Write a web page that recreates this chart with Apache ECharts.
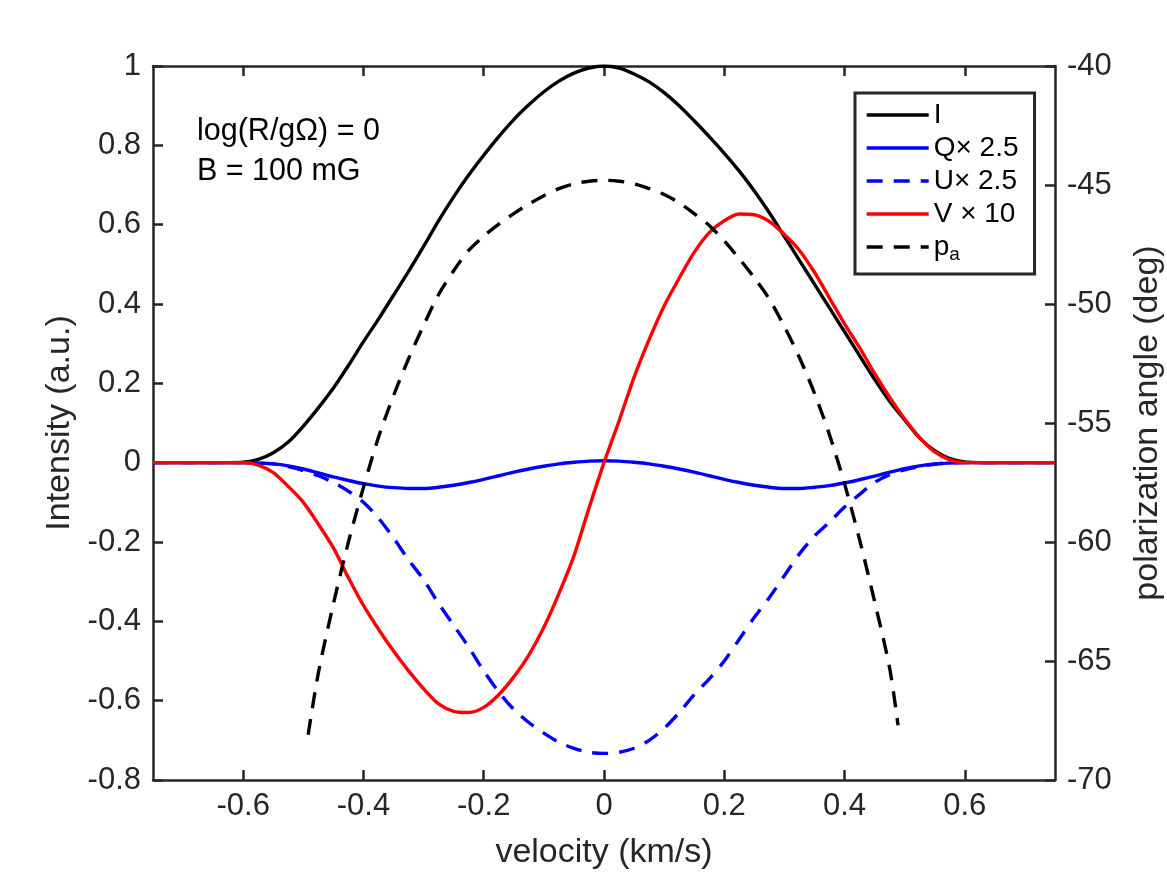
<!DOCTYPE html>
<html>
<head>
<meta charset="utf-8">
<title>Stokes profiles</title>
<script src="https://cdn.jsdelivr.net/npm/echarts@6.0.0/dist/echarts.min.js"></script>
<style>
  html, body { margin: 0; padding: 0; background: #fff; }
  #chart { width: 1167px; height: 875px; }
</style>
</head>
<body>
<div id="chart"></div>
<script>
// velocity grid (km/s)
var velocity = [-0.75, -0.725, -0.7, -0.675, -0.65, -0.625, -0.6, -0.575, -0.55, -0.525,
  -0.5, -0.475, -0.45, -0.425, -0.4, -0.375, -0.35, -0.325, -0.3, -0.275,
  -0.25, -0.225, -0.2, -0.175, -0.15, -0.125, -0.1, -0.075, -0.05, -0.025,
  0,
  0.025, 0.05, 0.075, 0.1, 0.125, 0.15, 0.175, 0.2, 0.225, 0.25,
  0.275, 0.3, 0.325, 0.35, 0.375, 0.4, 0.425, 0.45, 0.475, 0.5,
  0.525, 0.55, 0.575, 0.6, 0.625, 0.65, 0.675, 0.7, 0.725, 0.75];

var stokesI = [0, 0, 0, 0, 0, 0, 0.001, 0.008, 0.025, 0.052,
  0.092, 0.138, 0.188, 0.245, 0.305, 0.362, 0.422, 0.482, 0.545, 0.61,
  0.67, 0.725, 0.775, 0.822, 0.865, 0.902, 0.935, 0.962, 0.982, 0.995,
  1.0,
  0.995, 0.98, 0.96, 0.933, 0.9, 0.862, 0.822, 0.78, 0.735, 0.685,
  0.63, 0.57, 0.51, 0.45, 0.39, 0.33, 0.27, 0.21, 0.155, 0.108,
  0.062, 0.03, 0.01, 0.002, 0, 0, 0, 0, 0, 0];

// Q x 2.5
var stokesQ = [0, 0, 0, 0, 0, 0, 0, -0.001, -0.003, -0.008,
  -0.016, -0.026, -0.036, -0.045, -0.053, -0.059, -0.063, -0.065, -0.065, -0.062,
  -0.057, -0.05, -0.042, -0.033, -0.024, -0.016, -0.009, -0.003, 0.001, 0.004,
  0.005,
  0.004, 0.001, -0.003, -0.009, -0.016, -0.024, -0.033, -0.042, -0.05, -0.057,
  -0.062, -0.065, -0.065, -0.062, -0.058, -0.051, -0.043, -0.034, -0.024, -0.015,
  -0.008, -0.003, -0.001, 0, 0, 0, 0, 0, 0, 0];

// U x 2.5
var stokesU = [0, 0, 0, 0, 0, 0, 0, -0.001, -0.003, -0.01,
  -0.02, -0.033, -0.05, -0.072, -0.1, -0.14, -0.19, -0.245, -0.295, -0.355,
  -0.41, -0.465, -0.525, -0.578, -0.622, -0.655, -0.682, -0.705, -0.72, -0.73,
  -0.733,
  -0.73, -0.72, -0.7, -0.67, -0.63, -0.585, -0.545, -0.5, -0.445, -0.39,
  -0.34, -0.285, -0.23, -0.185, -0.15, -0.112, -0.08, -0.05, -0.03, -0.018,
  -0.01, -0.004, -0.001, 0, 0, 0, 0, 0, 0, 0];

// V x 10
var stokesV = [0, 0, 0, 0, 0, 0, 0, -0.006, -0.025, -0.06,
  -0.1, -0.155, -0.215, -0.29, -0.36, -0.42, -0.475, -0.525, -0.57, -0.608,
  -0.627, -0.63, -0.617, -0.585, -0.54, -0.485, -0.415, -0.33, -0.235, -0.115,
  0,
  0.105, 0.215, 0.31, 0.395, 0.465, 0.53, 0.58, 0.61, 0.627, 0.625,
  0.608, 0.575, 0.535, 0.48, 0.415, 0.35, 0.29, 0.225, 0.165, 0.11,
  0.063, 0.027, 0.007, 0, 0, 0, 0, 0, 0, 0];

// polarization angle (deg), right axis
var paVelocity = [-0.492, -0.475, -0.45, -0.425, -0.4, -0.375, -0.35, -0.325, -0.3, -0.275,
  -0.25, -0.225, -0.2, -0.175, -0.15, -0.125, -0.1, -0.075, -0.05, -0.025,
  0,
  0.025, 0.05, 0.075, 0.1, 0.125, 0.15, 0.175, 0.2, 0.225, 0.25,
  0.275, 0.3, 0.325, 0.35, 0.375, 0.4, 0.425, 0.45, 0.475, 0.489];
var paAngle = [-68.1, -65.5, -62.6, -60.0, -57.7, -55.6, -53.85, -52.3, -50.9, -49.6,
  -48.6, -47.75, -47.15, -46.64, -46.2, -45.8, -45.45, -45.15, -44.95, -44.84,
  -44.8,
  -44.84, -44.95, -45.15, -45.4, -45.75, -46.2, -46.7, -47.35, -48.1, -48.9,
  -49.8, -50.95, -52.25, -53.75, -55.5, -57.55, -59.9, -62.5, -65.3, -67.7];

var xTicks = [-0.6, -0.4, -0.2, 0, 0.2, 0.4, 0.6];
var seriesNames = ['I', 'Q\u00d7 2.5', 'U\u00d7 2.5', 'V \u00d7 10', 'p_a'];

var FONT = '"Liberation Sans", Arial, Helvetica, sans-serif';
var AX = '#262626';
var LW = 3.4;

function pairs(xs, ys) {
  return xs.map(function (x, i) { return [x, ys[i]]; });
}

function fmt(v) {
  var r = Math.round(v * 10) / 10;
  return String(r);
}

var myChart = echarts.init(document.getElementById('chart'), null, { renderer: 'canvas' });

var axisLineStyle = { color: AX, width: 2.5 };

function lineSeries(name, xs, ys, color, dashed, yIndex) {
  var ls = { color: color, width: LW };
  if (dashed) ls.type = [16, 11];
  return {
    name: name, type: 'line', xAxisIndex: 0, yAxisIndex: yIndex,
    data: pairs(xs, ys), showSymbol: false, symbol: 'none',
    smooth: 0.3,
    lineStyle: ls, itemStyle: { color: color }
  };
}

var option = {
  backgroundColor: '#fff',
  animation: false,
  textStyle: { fontFamily: FONT },
  grid: { left: 153, right: 112, top: 66, bottom: 95, containLabel: false, outerBoundsMode: 'none' },
  legend: {
    orient: 'vertical',
    left: 855,
    top: 93,
    data: seriesNames,
    itemWidth: 62,
    itemHeight: 20,
    itemGap: 5,
    padding: [8, 16, 10, 10],
    borderColor: AX,
    borderWidth: 3,
    backgroundColor: '#fff',
    lineStyle: { width: LW },
    itemStyle: { color: 'rgba(0,0,0,0)', borderColor: 'rgba(0,0,0,0)', borderWidth: 0, opacity: 0 },
    textStyle: {
      fontSize: 28, color: '#000', fontFamily: FONT,
      rich: {
        p: { fontSize: 28, color: '#000', fontFamily: FONT },
        s: { fontSize: 19, color: '#000', fontFamily: FONT, padding: [15, 0, 0, 0] }
      }
    },
    formatter: function (name) {
      if (name === 'p_a') return '{p|p}{s|a}';
      return name;
    }
  },
  xAxis: [{
    type: 'value',
    position: 'bottom',
    min: -0.75,
    max: 0.75,
    name: 'velocity (km/s)',
    nameLocation: 'middle',
    nameGap: 56,
    nameTextStyle: { fontSize: 34, color: AX, fontFamily: FONT },
    axisLine: { show: true, onZero: false, lineStyle: axisLineStyle },
    axisTick: { show: true, inside: true, length: 10, customValues: xTicks, lineStyle: axisLineStyle },
    axisLabel: { customValues: xTicks, fontSize: 31, color: AX, margin: 11, formatter: fmt },
    splitLine: { show: false }
  }, {
    type: 'value',
    position: 'top',
    min: -0.75,
    max: 0.75,
    axisLine: { show: true, onZero: false, lineStyle: axisLineStyle },
    axisTick: { show: true, inside: true, length: 10, customValues: xTicks, lineStyle: axisLineStyle },
    axisLabel: { show: false },
    splitLine: { show: false }
  }],
  yAxis: [{
    type: 'value',
    position: 'left',
    min: -0.8,
    max: 1,
    interval: 0.2,
    name: 'Intensity (a.u.)',
    nameLocation: 'middle',
    nameGap: 74,
    nameTextStyle: { fontSize: 34, color: AX, fontFamily: FONT },
    axisLine: { show: true, onZero: false, lineStyle: axisLineStyle },
    axisTick: { show: true, inside: true, length: 10, lineStyle: axisLineStyle },
    axisLabel: { fontSize: 31, color: AX, margin: 12, formatter: fmt },
    splitLine: { show: false }
  }, {
    type: 'value',
    position: 'right',
    min: -70,
    max: -40,
    interval: 5,
    name: 'polarization angle (deg)',
    nameLocation: 'middle',
    nameGap: 76,
    nameTextStyle: { fontSize: 34, color: AX, fontFamily: FONT },
    axisLine: { show: true, onZero: false, lineStyle: axisLineStyle },
    axisTick: { show: true, inside: true, length: 10, lineStyle: axisLineStyle },
    axisLabel: { fontSize: 31, color: AX, margin: 12 },
    splitLine: { show: false }
  }],
  graphic: [{
    type: 'text', x: 197, y: 132, z: 100,
    style: { text: 'log(R/g\u03a9) = 0', fontSize: 30.5, fontFamily: FONT, fill: '#000', verticalAlign: 'middle' }
  }, {
    type: 'text', x: 197, y: 172, z: 100,
    style: { text: 'B = 100 mG', fontSize: 30.5, fontFamily: FONT, fill: '#000', verticalAlign: 'middle' }
  }],
  series: [
    lineSeries(seriesNames[0], velocity, stokesI, '#000000', false, 0),
    lineSeries(seriesNames[1], velocity, stokesQ, '#0000ff', false, 0),
    lineSeries(seriesNames[2], velocity, stokesU, '#0000ff', true, 0),
    lineSeries(seriesNames[3], velocity, stokesV, '#ff0000', false, 0),
    lineSeries(seriesNames[4], paVelocity, paAngle, '#000000', true, 1)
  ]
};

myChart.setOption(option);
</script>
</body>
</html>
